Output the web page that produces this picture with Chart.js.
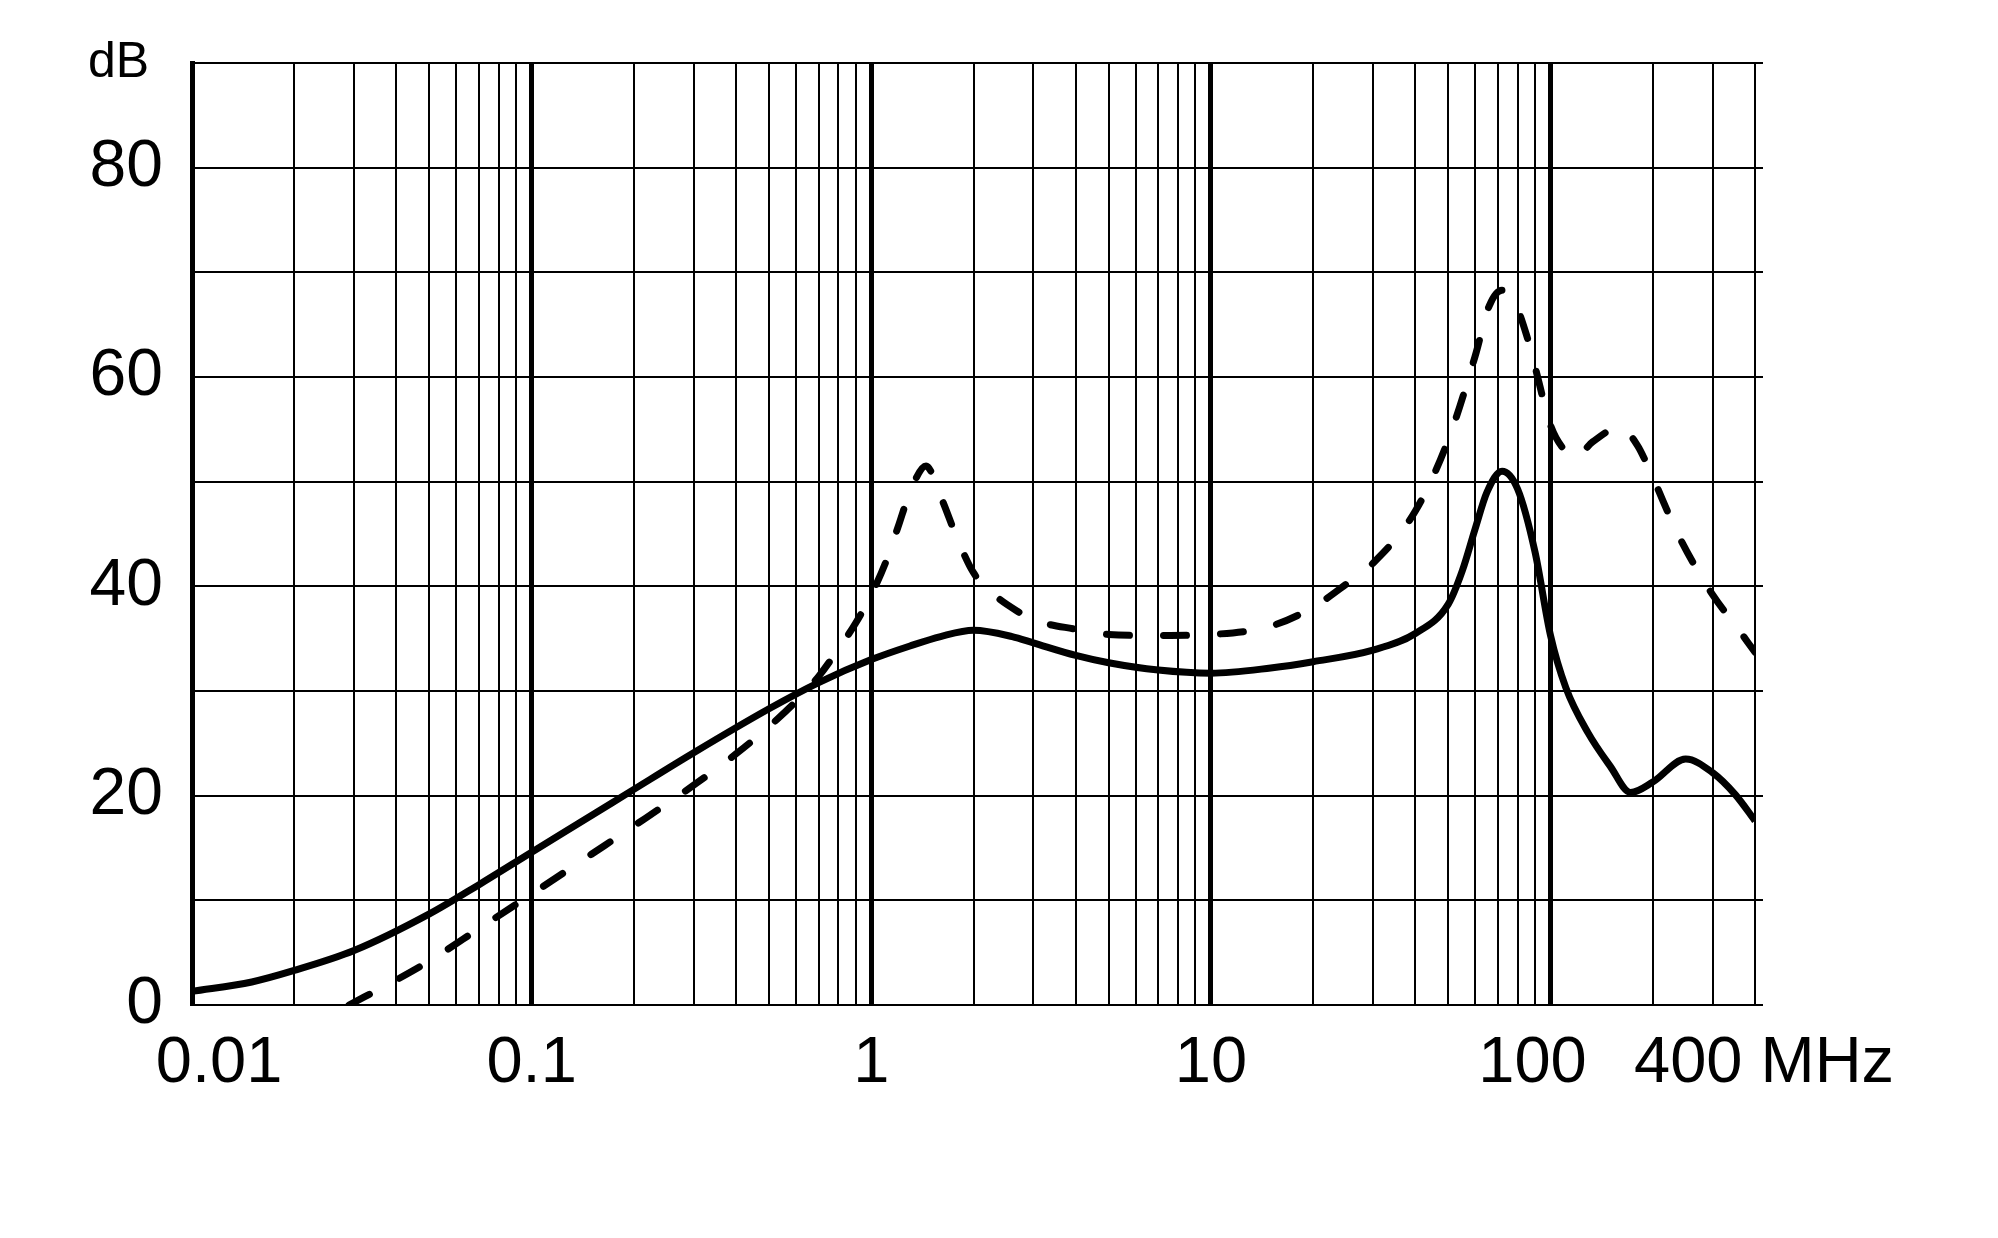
<!DOCTYPE html>
<html>
<head>
<meta charset="utf-8">
<title>dB vs MHz</title>
<script src="https://cdn.jsdelivr.net/npm/chart.js@4.4.1/dist/chart.umd.min.js"></script>
<style>
  html, body { margin: 0; padding: 0; background: #fff; }
  #wrap { width: 1998px; height: 1238px; }
</style>
</head>
<body>
<div id="wrap"><canvas id="chart"></canvas></div>
<script>
// solid curve
const solidFreq = [0.01, 0.015, 0.02, 0.03, 0.05, 0.07, 0.1, 0.15, 0.2, 0.3, 0.5, 0.7, 1,
  1.3, 1.6, 2.0, 2.6, 3, 4, 5, 7, 10, 15, 20, 30, 40, 50, 55, 60, 65, 72, 80, 90, 100, 111, 129, 150, 172, 200, 250, 300, 350, 400];
const solidDb = [1.3, 2.2, 3.3, 5.2, 8.7, 11.5, 14.6, 18.1, 20.6, 24.1, 28.3, 30.8, 33.0,
  34.3, 35.2, 35.8, 35.2, 34.6, 33.4, 32.7, 32.0, 31.7, 32.2, 32.8, 33.9, 35.5, 38.3, 41.5, 45.5, 49.0, 51.0, 49.3, 43.3, 35.3, 30.3, 26.0, 22.8, 20.3, 21.3, 23.5, 22.2, 20.1, 17.6];

// dashed curve
const dashedFreq = [0.029, 0.04, 0.05, 0.07, 0.1, 0.15, 0.2, 0.3, 0.4, 0.5, 0.6, 0.7, 0.8, 0.9, 1,
  1.1, 1.2, 1.3, 1.45, 1.6, 1.8, 2, 2.3, 2.7, 3, 4, 5, 7, 10, 15, 20, 25, 30, 40, 50, 60, 66, 72, 78, 85, 90, 100,
  110, 118, 133, 160, 180, 200, 237, 300, 350, 400];
const dashedDb = [0, 2.4, 4.2, 7.3, 10.6, 14.4, 17.1, 21.0, 24.0, 26.6, 29.0, 31.4, 34.0, 36.5, 39.2,
  42.2, 45.7, 49.0, 51.5, 48.6, 44.4, 41.3, 39.2, 37.6, 36.8, 35.9, 35.4, 35.3, 35.4, 36.2, 38.0, 40.2, 42.2, 47.2, 54.0, 62.0, 66.8, 68.3, 67.3, 64.0, 61.0, 55.4,
  53.0, 52.3, 53.8, 55.2, 53.5, 50.4, 45.0, 39.2, 36.3, 33.7];

// axes
const gridFreqs = [0.01, 0.02, 0.03, 0.04, 0.05, 0.06, 0.07, 0.08, 0.09,
  0.1, 0.2, 0.3, 0.4, 0.5, 0.6, 0.7, 0.8, 0.9,
  1, 2, 3, 4, 5, 6, 7, 8, 9,
  10, 20, 30, 40, 50, 60, 70, 80, 90,
  100, 200, 300, 400];
const decadeFreqs = [0.01, 0.1, 1, 10, 100];
const xLabelValues = [0.01, 0.1, 1, 10, 100, 400];
const xLabelTexts = ['0.01', '0.1', '1', '10', '100', '400 MHz'];
const yGridValues = [0, 10, 20, 30, 40, 50, 60, 70, 80, 90];
const yLabelValues = [0, 20, 40, 60, 80, 90];
const yLabelTexts = ['0', '20', '40', '60', '80', 'dB'];

const FONT = "'Liberation Sans', Arial, sans-serif";

// the printed labels sit a little off their ticks; nudge with spaces
const xLabelNudge = { '0.01': '   ', '400 MHz': ' ' };
const xLabelTrail = { '100': '  ' };

function same(a, b) { return Math.abs(a - b) < 1e-6 * Math.max(1, Math.abs(b)); }
function findIdx(list, v) { return list.findIndex(x => same(x, v)); }

const ctx = document.getElementById('chart').getContext('2d');
new Chart(ctx, {
    type: 'line',
    data: {
        datasets: [{
            data: solidFreq.map((f, i) => ({ x: f, y: solidDb[i] })),
            borderColor: '#000',
            borderWidth: 7,
            pointRadius: 0,
            fill: false,
            cubicInterpolationMode: 'monotone',
            borderJoinStyle: 'round'
        }, {
            data: dashedFreq.map((f, i) => ({ x: f, y: dashedDb[i] })),
            borderColor: '#000',
            borderWidth: 7,
            borderDash: [23, 34],
            borderCapStyle: 'round',
            pointRadius: 0,
            fill: false,
            cubicInterpolationMode: 'monotone'
        }]
    },
    options: {
        responsive: true,
        maintainAspectRatio: false,
        animation: false,
        events: [],
        layout: { padding: { top: 63, right: 223, bottom: 0, left: 0 } },
        plugins: { legend: { display: false }, tooltip: { enabled: false } },
        scales: {
            x: {
                type: 'logarithmic',
                min: 0.01,
                max: 400,
                afterBuildTicks: scale => { scale.ticks = gridFreqs.map(v => ({ value: v })); },
                afterFit: scale => { scale.height = 233; },
                grid: {
                    color: '#000',
                    lineWidth: c => (c.tick && findIdx(decadeFreqs, c.tick.value) >= 0) ? 5 : 2,
                    drawTicks: false
                },
                border: { display: false },
                ticks: {
                    autoSkip: false,
                    maxRotation: 0,
                    color: '#000',
                    padding: 20,
                    font: { family: FONT, size: 65 },
                    callback: value => {
                        const i = findIdx(xLabelValues, value);
                        if (i < 0) return '';
                        const t = xLabelTexts[i];
                        return (xLabelNudge[t] || '') + t + (xLabelTrail[t] || '');
                    }
                }
            },
            y: {
                min: 0,
                max: 90,
                afterBuildTicks: scale => { scale.ticks = yGridValues.map(v => ({ value: v })); },
                afterFit: scale => { scale.width = 192; },
                grid: { color: '#000', lineWidth: 2, drawTicks: false },
                border: { display: true, color: '#000', width: 5 },
                ticks: {
                    autoSkip: false,
                    color: '#000',
                    padding: 29,
                    font: c => ({ family: FONT, size: (c.tick && c.tick.value === 90) ? 50 : 66 }),
                    callback: value => {
                        const i = findIdx(yLabelValues, value);
                        if (i < 0) return '';
                        return value === 90 ? yLabelTexts[i] + ' ' : yLabelTexts[i];
                    }
                }
            },
            y2: {
                position: 'right',
                min: 0,
                max: 90,
                afterBuildTicks: scale => { scale.ticks = yGridValues.map(v => ({ value: v })); },
                afterFit: scale => { scale.width = 20; },
                grid: { color: '#000', lineWidth: 2, drawOnChartArea: false, drawTicks: true, tickLength: 8 },
                border: { display: false },
                ticks: { display: false }
            }
        }
    }
});
</script>
</body>
</html>
